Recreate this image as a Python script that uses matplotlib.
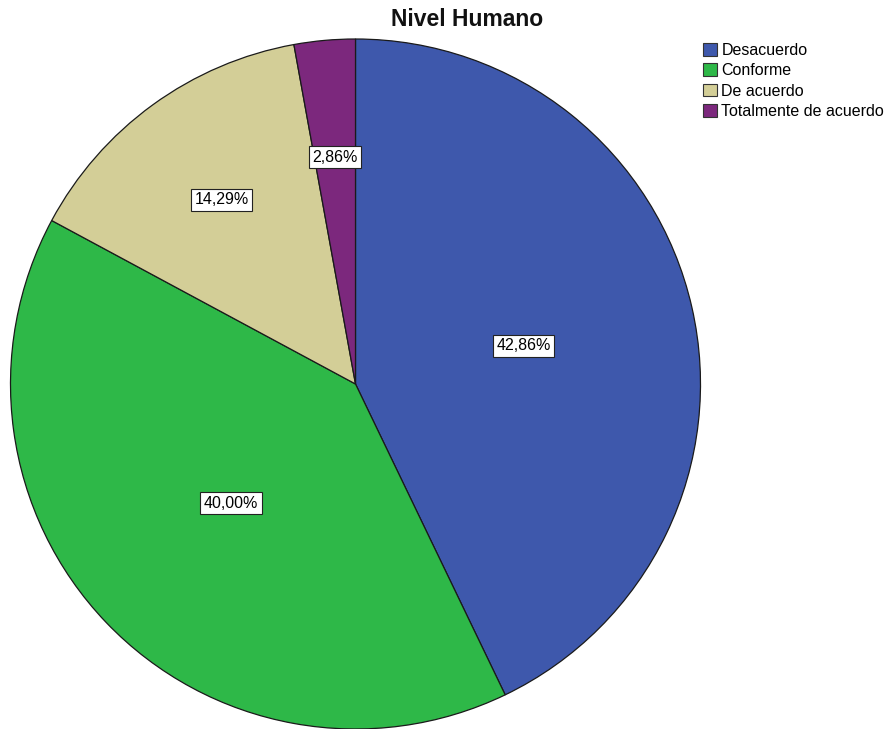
import matplotlib.pyplot as plt
from matplotlib.patches import Patch
import numpy as np

plt.rcParams['font.family'] = ['Liberation Sans', 'DejaVu Sans']

categories = ["Desacuerdo", "Conforme", "De acuerdo", "Totalmente de acuerdo"]
counts = [15, 14, 5, 1]  # n = 35
colors = ["#3E58AC", "#2EB848", "#D3CE97", "#7C287D"]

percents = [c / sum(counts) * 100 for c in counts]

fig = plt.figure(figsize=(8.9, 7.29), dpi=100)
ax = fig.add_axes([10.5 / 890, 0.0, 690 / 890, 690 / 729])

wedges, _ = ax.pie(counts, colors=colors, startangle=90, counterclock=False,
                   radius=1, wedgeprops=dict(edgecolor="#1a1a1a", linewidth=0.9))
ax.set_xlim(-1, 1)
ax.set_ylim(-1, 1)
ax.set_aspect("equal")
ax.axis("off")

# percentage labels in white boxes (small slices are labelled further out)
for w, p in zip(wedges, percents):
    mid = np.deg2rad((w.theta1 + w.theta2) / 2)
    r = 0.5 if p > 20 else 0.66
    ax.text(r * np.cos(mid), r * np.sin(mid), f"{p:.2f}%".replace(".", ","),
            ha="center", va="center", fontsize=11.5,
            bbox=dict(boxstyle="square,pad=0.22", facecolor="white",
                      edgecolor="#222222", linewidth=0.8))

fig.text(467 / 890, 1 - 20 / 729, "Nivel Humano", ha="center", va="center",
         fontsize=16.5, fontweight="bold", color="#111111")

handles = [Patch(facecolor=c, edgecolor="#333333", linewidth=0.8) for c in colors]
fig.legend(handles, categories, loc="upper left",
           bbox_to_anchor=(703 / 890, 1 - 43 / 729), frameon=False,
           fontsize=11.5, handlelength=0.85, handleheight=0.85,
           handletextpad=0.3, labelspacing=0.33, borderpad=0, borderaxespad=0)

fig.savefig("out.png", dpi=100)
